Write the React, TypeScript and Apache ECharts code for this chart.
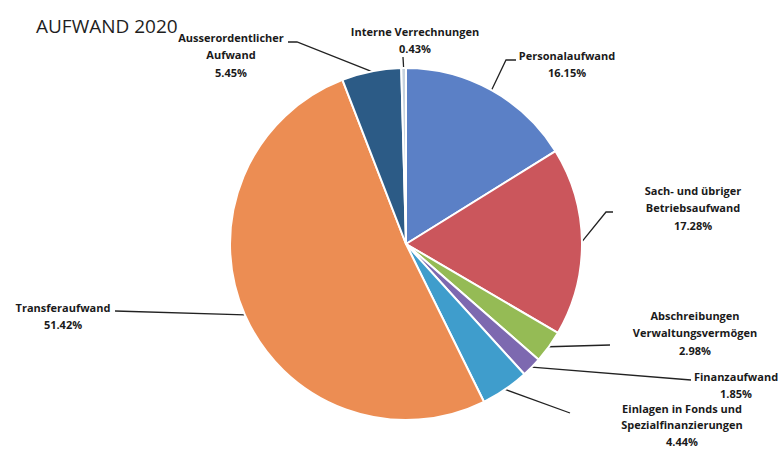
import React, { useEffect, useRef } from "react";
import * as echarts from "echarts";

const titleText = "AUFWAND 2020";
const categories = [
  "Personalaufwand",
  "Sach- und übriger\nBetriebsaufwand",
  "Abschreibungen\nVerwaltungsvermögen",
  "Finanzaufwand",
  "Einlagen in Fonds und\nSpezialfinanzierungen",
  "Transferaufwand",
  "Ausserordentlicher\nAufwand",
  "Interne Verrechnungen",
];
const shares = [16.15, 17.28, 2.98, 1.85, 4.44, 51.42, 5.45, 0.43];
const colors = ["#5b80c6", "#cb565c", "#95bb55", "#7d69b0", "#3f9dcc", "#ec8d53", "#2c5b86", "#c6d2de"];

// label placement: centre x, first-line centre y, line height, guide line points after the slice anchor
const labelPlacement = [
  { cx: 567, cy: 55, lh: 17.5, line: [[506, 60], [516, 60]] },
  { cx: 693, cy: 190, lh: 17.5, line: [[606, 212], [613, 212]] },
  { cx: 695, cy: 315, lh: 17.5, line: [[610, 345], [610, 345]] },
  { cx: 736, cy: 376, lh: 17.5, line: [[691, 380], [691, 380]] },
  { cx: 682, cy: 408, lh: 16.5, line: [[570, 413], [570, 413]] },
  { cx: 63, cy: 307, lh: 17.5, line: [[115, 311], [115, 311]] },
  { cx: 231, cy: 37, lh: 17.5, line: [[297, 42], [288, 42]] },
  { cx: 415, cy: 31, lh: 17.5, line: [[403, 57], [403, 57]] },
];

export default function App() {
  const ref = useRef<HTMLDivElement>(null);
  useEffect(() => {
    document.body.style.margin = "0";
    const chart = echarts.init(ref.current!, null, { renderer: "svg" });
    chart.setOption({
      animation: false,
      backgroundColor: "#ffffff",
      title: {
        text: titleText,
        left: 31,
        top: 11,
        textStyle: { fontFamily: "Open Sans", fontSize: 19, fontWeight: "normal", color: "#1e1e1e" },
      },
      series: [
        {
          type: "pie",
          center: [406, 244],
          radius: 176,
          startAngle: 90,
          clockwise: true,
          avoidLabelOverlap: false,
          itemStyle: { borderColor: "#ffffff", borderWidth: 2 },
          data: categories.map((name, i) => ({
            name,
            value: shares[i],
            itemStyle: { color: colors[i] },
            label: { lineHeight: labelPlacement[i].lh },
          })),
          label: {
            show: true,
            position: "outside",
            formatter: (p: any) => `${p.name}\n${shares[p.dataIndex].toFixed(2)}%`,
            fontFamily: "Open Sans",
            fontWeight: "bold",
            fontSize: 11,
            color: "#1a1a1a",
            align: "center",
          },
          labelLine: {
            show: true,
            length: 10,
            length2: 10,
            lineStyle: { color: "#222222", width: 1.3 },
          },
          labelLayout: (params: any) => {
            const pl = labelPlacement[params.dataIndex];
            const anchor = params.labelLinePoints ? params.labelLinePoints[0] : pl.line[0];
            return {
              x: pl.cx,
              y: pl.cy - pl.lh / 2,
              align: "center",
              verticalAlign: "top",
              labelLinePoints: [anchor, pl.line[0], pl.line[1]],
            };
          },
          emphasis: { disabled: true },
        },
      ],
    });
    return () => chart.dispose();
  }, []);
  return <div ref={ref} style={{ width: 782, height: 449 }} />;
}
